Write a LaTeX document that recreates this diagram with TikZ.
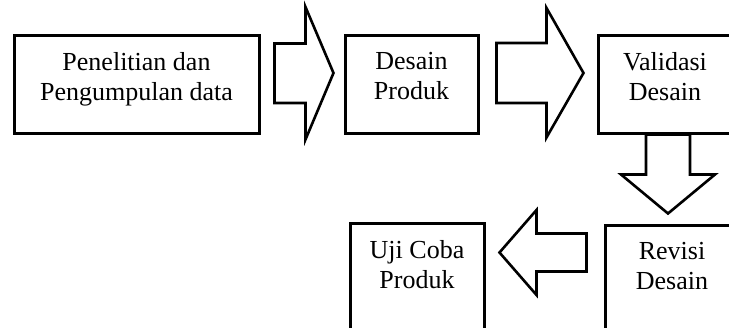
\documentclass[tikz,border=0pt]{standalone}
\usepackage{fontspec}
\setmainfont{Liberation Serif}
\usetikzlibrary{calc,positioning}

\begin{document}
\begin{tikzpicture}[x=1pt,y=-1pt]
    \tikzstyle{step box}=[draw,line width=3pt,inner sep=0,minimum height=98pt]
    \tikzstyle{box text}=[align=center,inner sep=0,font=\fontsize{26}{30}\selectfont]
    \tikzstyle{block arrow}=[draw,line width=2.6pt,line join=miter]

    \useasboundingbox (0,0) rectangle (729,327);
    \clip (0,0) rectangle (729,327);

    % steps
    \node(pen)[step box,minimum width=245pt] at (136.5,84) {};
    \node(des)[step box,minimum width=133pt] at (411.5,84) {};
    \node(val)[step box,minimum width=134pt] at (665,84) {};
    \node(rev)[step box,minimum width=134pt,minimum height=110pt] at (672,280) {};
    \node(uji)[step box,minimum width=134pt,minimum height=110pt] at (417,278) {};

    \node(pen text)[box text,below=19pt of pen.north]{Penelitian dan\\Pengumpulan data};
    \node(des text)[box text,below=19pt of des.north]{Desain\\Produk};
    \node(val text)[box text,below=19pt of val.north]{Validasi\\Desain};
    \node(rev text)[box text,below=19pt of rev.north]{Revisi\\Desain};
    \node(uji text)[box text,below=19pt of uji.north]{Uji Coba\\Produk};

    % block arrows
    \coordinate (t1) at ($(pen.east)+(14,-11)$);
    \draw[block arrow] (t1) ++(0,-29.5) -- ++(31,0) -- ++(0,-36.5) -- ($(des.west)+(-10,-11)$) -- ($(t1)+(31,66.5)$) -- ++(0,-36.5) -- ++(-31,0) -- cycle;

    \coordinate (t2) at ($(des.east)+(17,-11)$);
    \draw[block arrow] (t2) ++(0,-30) -- ++(50,0) -- ++(0,-35) -- ($(val.west)+(-13,-11)$) -- ($(t2)+(50,64.5)$) -- ++(0,-34.5) -- ++(-50,0) -- cycle;

    \coordinate (t3) at ($(val.south)+(3,0)$);
    \draw[block arrow] (t3) ++(-22,0) -- ++(0,40) -- ++(-25,0) -- ($(rev.north)+(-4,-10)$) -- ($(t3)+(47,40)$) -- ++(-25,0) -- ++(0,-40) -- cycle;

    \coordinate (t4) at ($(rev.north west)+(-17,29)$);
    \draw[block arrow] (t4) ++(0,-19) -- ++(-50,0) -- ++(0,-23.5) -- ($(uji.north east)+(14,31)$) -- ($(t4)+(-50,42.5)$) -- ++(0,-23.5) -- ++(50,0) -- cycle;
\end{tikzpicture}
\end{document}
